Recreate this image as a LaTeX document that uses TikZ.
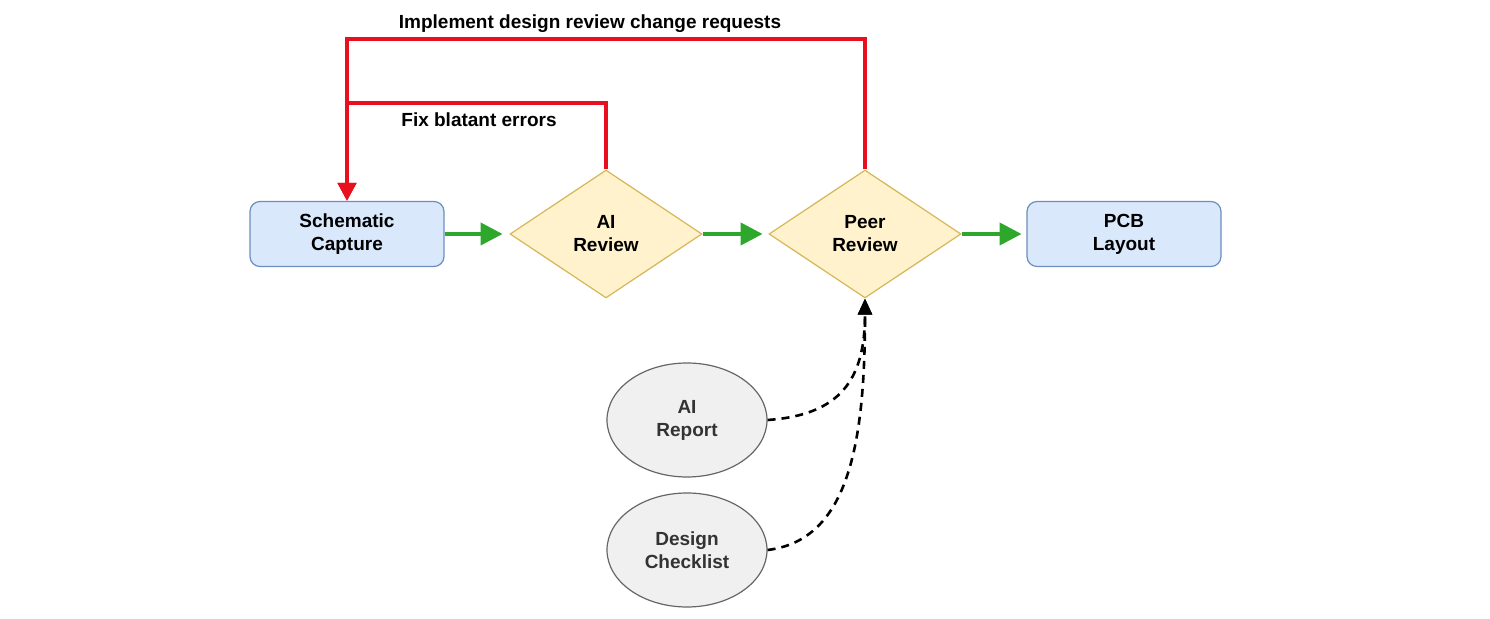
\documentclass[tikz,border=0pt]{standalone}
\usepackage{fontspec}
\setmainfont{Liberation Sans}
\usetikzlibrary{shapes.geometric,arrows.meta}
\definecolor{bfill}{HTML}{DAE8FC}\definecolor{bline}{HTML}{6C8EBF}
\definecolor{dfill}{HTML}{FFF2CC}\definecolor{dline}{HTML}{D6B656}
\definecolor{efill}{HTML}{F0F0F0}\definecolor{eline}{HTML}{666666}
\definecolor{gr}{HTML}{2DA82D}\definecolor{rd}{HTML}{E8101E}
\begin{document}
\begin{tikzpicture}[x=0.5pt,y=-0.5pt,
 txt/.style={font=\fontsize{9.5}{11.5}\selectfont\bfseries,align=center},
 box/.style={txt,draw=bline,fill=bfill,rounded corners=5pt,minimum width=97pt,minimum height=32.5pt,line width=0.6pt},
 dia/.style={txt,draw=dline,fill=dfill,diamond,minimum width=96pt,minimum height=64pt,inner sep=0pt,line width=0.6pt},
 ell/.style={txt,draw=eline,fill=efill,ellipse,minimum width=80pt,minimum height=57pt,line width=0.6pt,text=black!80},
 ga/.style={draw=gr,line width=2pt,-{Triangle[length=11pt,width=11pt]}},
 ra/.style={draw=rd,line width=2pt,-{Triangle[length=9pt,width=9pt]}},
 da/.style={line width=1.3pt,dash pattern=on 4pt off 3pt,-{Triangle[length=8pt,width=7pt]}}]
\useasboundingbox (0,0) rectangle (1490,619);
\node[box] (sc) at (347,234) {Schematic\\Capture};
\node[dia] (ai) at (606,234) {AI\\Review};
\node[dia] (pr) at (865,234) {Peer\\Review};
\node[box] (pcb) at (1124,234) {PCB\\Layout};
\node[ell] (rep) at (687,420) {AI\\Report};
\node[ell] (chk) at (687,550) {Design\\Checklist};
\draw[ga] (sc.east) -- ++(58,0);
\draw[ga] (ai.east) -- ++(60,0);
\draw[ga] (pr.east) -- ++(60,0);
\coordinate (j1) at (347,103);
\draw[ra] (ai.north) -- (606,103) -- (j1) -- (sc.north);
\draw[ra] (pr.north) -- (865,39) -- (347,39) -- (sc.north);
\node[txt] (l1) at (590,24) {Implement design review change requests};
\node[txt] (l2) at (479,120) {Fix blatant errors};
\draw[da] (rep.east) .. controls (840,415) and (865,380) .. (pr.south);
\draw[da] (chk.east) .. controls (850,540) and (865,440) .. (pr.south);
\end{tikzpicture}
\end{document}
